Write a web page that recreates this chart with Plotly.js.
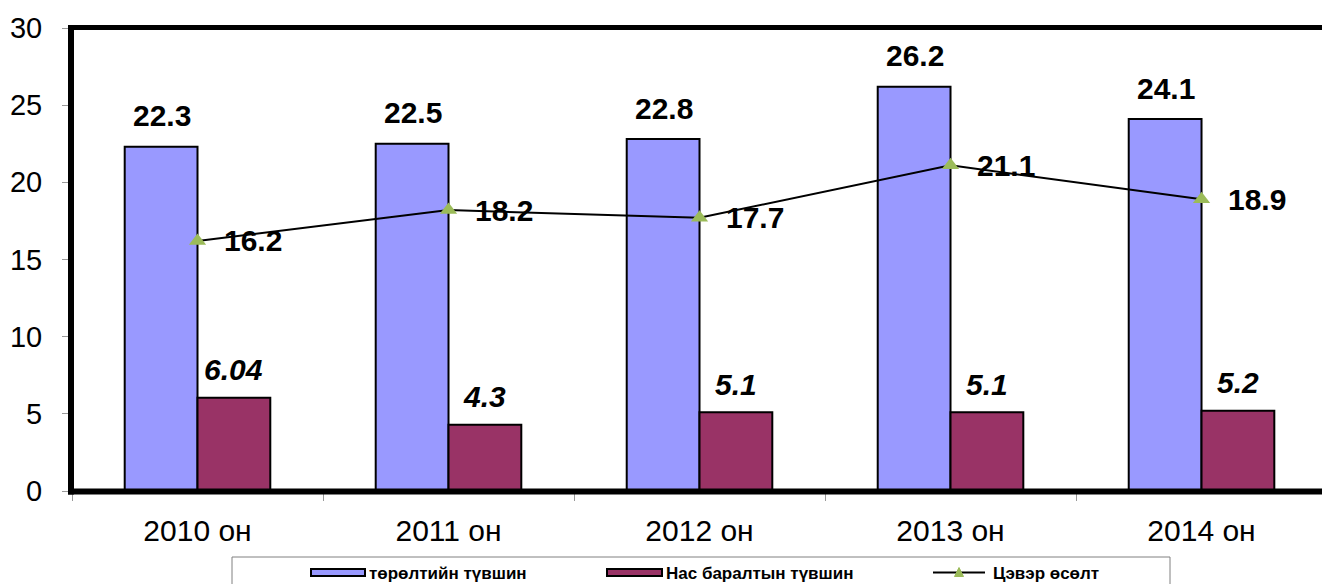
<!DOCTYPE html>
<html>
<head>
<meta charset="utf-8">
<script src="https://cdn.plot.ly/plotly-3.0.1.min.js"></script>
<style>html,body{margin:0;padding:0;background:#fff;}#chart{width:1322px;height:584px;}</style>
</head>
<body>
<div id="chart"></div>
<script>
const categories = ['2010 он', '2011 он', '2012 он', '2013 он', '2014 он'];
const birthRate = [22.3, 22.5, 22.8, 26.2, 24.1];
const deathRate = [6.04, 4.3, 5.1, 5.1, 5.2];
const netGrowth = [16.2, 18.2, 17.7, 21.1, 18.9];
const birthLabels = ['22.3', '22.5', '22.8', '26.2', '24.1'];
const deathLabels = ['6.04', '4.3', '5.1', '5.1', '5.2'];
const growthLabels = ['16.2', '18.2', '17.7', '21.1', '18.9'];
const seriesNames = ['төрөлтийн түвшин', 'Нас баралтын түвшин', 'Цэвэр өсөлт'];
const yTicks = [0, 5, 10, 15, 20, 25, 30];

const FONT = '"Liberation Sans", Arial, sans-serif';
const W = 1322, H = 584;
const L = 72, R = 1322, T = 28, B = 491;
const px = x => (x - L) / (R - L);
const py = y => (B - y) / (B - T);

const traces = [
  {type: 'bar', name: seriesNames[0], x: categories, y: birthRate,
   marker: {color: '#9999FF', line: {color: '#000', width: 2}}, hoverinfo: 'y'},
  {type: 'bar', name: seriesNames[1], x: categories, y: deathRate,
   marker: {color: '#993366', line: {color: '#000', width: 2}}, hoverinfo: 'y'},
  {type: 'scatter', mode: 'lines+markers', name: seriesNames[2], x: categories, y: netGrowth,
   line: {color: '#000', width: 2},
   marker: {symbol: 'triangle-up', size: 15, color: '#9BBB59'}, hoverinfo: 'y'}
];

const annotations = [];
categories.forEach((c, i) => {
  annotations.push({x: c, y: birthRate[i], xref: 'x', yref: 'y', text: birthLabels[i],
    showarrow: false, xshift: -36, yshift: 31, yanchor: 'middle',
    font: {family: FONT, size: 30, color: '#000', weight: 'bold'}});
  annotations.push({x: c, y: deathRate[i], xref: 'x', yref: 'y', text: '<i>' + deathLabels[i] + '</i>',
    showarrow: false, xshift: 36, yshift: 28, yanchor: 'middle',
    font: {family: FONT, size: 30, color: '#000', weight: 'bold', style: 'italic'}});
  annotations.push({x: c, y: netGrowth[i], xref: 'x', yref: 'y', text: growthLabels[i],
    showarrow: false, xshift: 24, yshift: 0, xanchor: 'left', yanchor: 'middle',
    font: {family: FONT, size: 30, color: '#000', weight: 'bold'}});
});

// custom legend texts
const legendFont = {family: FONT, size: 17, color: '#000', weight: 'bold'};
[[367, seriesNames[0]], [664, seriesNames[1]], [991, seriesNames[2]]].forEach(([x, t]) => {
  annotations.push({xref: 'paper', yref: 'paper', x: px(x), y: py(573), text: t,
    xanchor: 'left', yanchor: 'middle', showarrow: false, font: legendFont});
});

const shapes = [
  // frame
  {type: 'line', xref: 'paper', yref: 'paper', x0: px(71), x1: px(71), y0: py(25), y1: py(494.5), line: {color: '#000', width: 6}},
  {type: 'line', xref: 'paper', yref: 'paper', x0: px(68), x1: px(1330), y0: py(27.5), y1: py(27.5), line: {color: '#000', width: 5}},
  {type: 'line', xref: 'paper', yref: 'paper', x0: px(68), x1: px(1330), y0: py(491.5), y1: py(491.5), line: {color: '#000', width: 6}},
  // legend box
  {type: 'rect', xref: 'paper', yref: 'paper', x0: px(232), x1: px(1170), y0: py(557), y1: py(600), line: {color: '#808080', width: 1}, fillcolor: 'rgba(0,0,0,0)'},
  {type: 'rect', xref: 'paper', yref: 'paper', x0: px(311), x1: px(365), y0: py(569), y1: py(576), line: {color: '#000', width: 2}, fillcolor: '#9999FF'},
  {type: 'rect', xref: 'paper', yref: 'paper', x0: px(607), x1: px(662), y0: py(569), y1: py(576), line: {color: '#000', width: 2}, fillcolor: '#993366'},
  {type: 'line', xref: 'paper', yref: 'paper', x0: px(933), x1: px(985), y0: py(572.5), y1: py(572.5), line: {color: '#000', width: 2}},
  {type: 'path', xref: 'paper', yref: 'paper',
   path: 'M' + px(954.5) + ',' + py(576.5) + ' L' + px(963.5) + ',' + py(576.5) + ' L' + px(959) + ',' + py(567.5) + ' Z',
   line: {color: '#9BBB59', width: 1}, fillcolor: '#9BBB59'}
];

const layout = {
  width: W, height: H,
  margin: {l: L, r: W - R, t: T, b: H - B, pad: 0},
  paper_bgcolor: '#fff', plot_bgcolor: '#fff',
  font: {family: FONT, color: '#000'},
  showlegend: false,
  barmode: 'group', bargap: 0.42, bargroupgap: 0,
  xaxis: {type: 'category', range: [-0.5, 4.48], showgrid: false, zeroline: false, showline: false,
    ticks: 'outside', tickson: 'boundaries', ticklen: 9, tickcolor: '#999', tickwidth: 1,
    ticklabelstandoff: 19,
    tickfont: {family: FONT, size: 30, color: '#000'}, fixedrange: true},
  yaxis: {range: [0, 30], tickvals: yTicks, ticktext: yTicks.map(String), showgrid: false, zeroline: false, showline: false,
    ticks: 'outside', ticklen: 9, tickcolor: '#999', tickwidth: 1,
    ticklabelstandoff: 14,
    tickfont: {family: FONT, size: 29, color: '#000'}, fixedrange: true},
  annotations: annotations,
  shapes: shapes
};

Plotly.newPlot('chart', traces, layout, {displayModeBar: false, staticPlot: true});
</script>
</body>
</html>
